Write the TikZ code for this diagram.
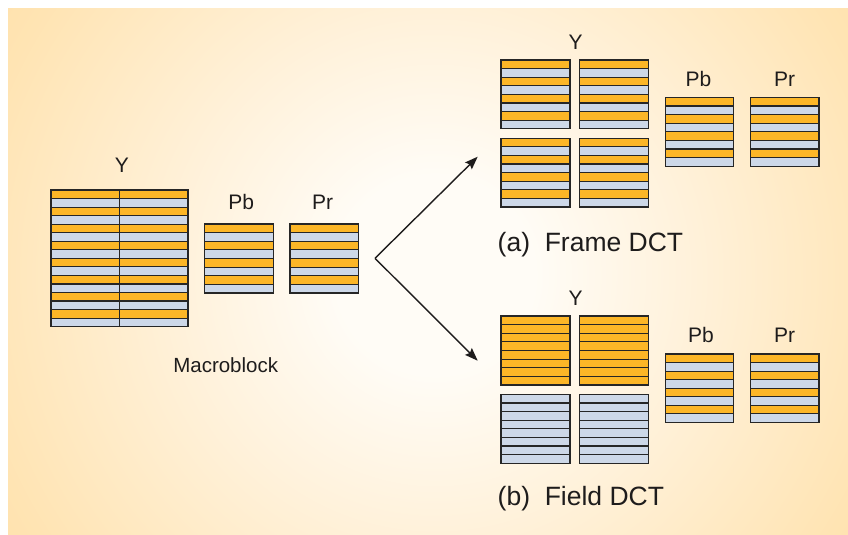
\documentclass[tikz,border=0pt]{standalone}
\usepackage{fontspec}
\setmainfont{Liberation Sans}
\usetikzlibrary{arrows.meta}
\definecolor{bgo}{HTML}{FED793}
\definecolor{bgm}{HTML}{FFE4B3}
\definecolor{bgl}{HTML}{FFF2DC}
\definecolor{bgc}{HTML}{FFFCF6}
\definecolor{org}{HTML}{FCB627}
\definecolor{blu}{HTML}{CDD8E8}
\definecolor{edge}{HTML}{262626}
\definecolor{txt}{HTML}{1E1C1C}
\pgfdeclareradialshading{bgrad}{\pgfpoint{0bp}{0bp}}{%
  color(0bp)=(bgc); color(4bp)=(bgc); color(10bp)=(bgl); color(19bp)=(bgm);
  color(29bp)=(bgo); color(50bp)=(bgo)}
\newcommand{\stripblk}[7]{%
  \pgfmathsetmacro\rh{(#4-#2)/#5}%
  \foreach \i in {1,...,#5}{%
    \pgfmathsetmacro\ya{#2+(\i-1)*\rh}%
    \pgfmathsetmacro\yb{#2+\i*\rh}%
    \ifodd\i\def\cc{#6}\else\def\cc{#7}\fi
    \fill[\cc] (#1,\ya) rectangle (#3,\yb);
    \draw[gridline] (#1,\ya) -- (#3,\ya);
  }%
  \draw[gridline] (#1,#2) rectangle (#3,#4);
}
\tikzset{
  gridline/.style={draw=edge, line width=1.15pt},
  lab/.style={text=txt, inner sep=0pt, anchor=base, font=\fontsize{21}{25}\selectfont},
  captext/.style={text=txt, inner sep=0pt, anchor=base west, font=\fontsize{26.5}{30}\selectfont},
  arr/.style={draw=txt, line width=1.4pt, -{Stealth[length=13pt,width=9.5pt,inset=2pt]}}
}
\begin{document}
\begin{tikzpicture}[x=1pt,y=-1pt]
\useasboundingbox (0,0) rectangle (848,535);
\fill[white] (0,0) rectangle (848,535);
\begin{scope}
  \clip (8,9) rectangle (848,535);
  \shade[shading=bgrad] (435,275) circle[radius=620pt];
\end{scope}
% ---- Macroblock ----
\stripblk{51}{190}{119.5}{326.7}{16}{org}{blu}
\stripblk{119.5}{190}{188}{326.7}{16}{org}{blu}
\stripblk{204.3}{224}{273.3}{293}{8}{org}{blu}
\stripblk{290}{224}{358.7}{293}{8}{org}{blu}
\node[lab] (ly) at (122,172.7) {Y};
\node[lab] (lpb) at (241.2,209.3) {Pb};
\node[lab] (lpr) at (322.7,209.3) {Pr};
\node[lab, font=\fontsize{20.5}{24}\selectfont] (mb) at (225.7,372.7) {Macroblock};
% ---- Frame DCT ----
\stripblk{501}{60}{570}{128.7}{8}{org}{blu}
\stripblk{579.3}{60}{648.3}{128.7}{8}{org}{blu}
\stripblk{501}{138.3}{570}{207}{8}{org}{blu}
\stripblk{579.3}{138.3}{648.3}{207}{8}{org}{blu}
\stripblk{665.3}{97.3}{733.7}{166.3}{8}{org}{blu}
\stripblk{750.3}{97.3}{819}{166.3}{8}{org}{blu}
\node[lab] (fy) at (575.7,50) {Y};
\node[lab] (fpb) at (698.5,86) {Pb};
\node[lab] (fpr) at (784.5,86) {Pr};
\node[captext] (capa) at (497.5,251) {(a)\ \ Frame DCT};
% ---- Field DCT ----
\stripblk{501}{316}{570}{385}{8}{org}{org}
\stripblk{579.3}{316}{648.3}{385}{8}{org}{org}
\stripblk{501}{394.3}{570}{463.3}{8}{blu}{blu}
\stripblk{579.3}{394.3}{648.3}{463.3}{8}{blu}{blu}
\stripblk{665.3}{354}{733.7}{422.3}{8}{org}{blu}
\stripblk{750.3}{354}{819}{422.3}{8}{org}{blu}
\node[lab] (dy) at (575.7,305) {Y};
\node[lab] (dpb) at (701,342.3) {Pb};
\node[lab] (dpr) at (784.5,342.3) {Pr};
\node[captext] (capb) at (497.5,505.3) {(b)\ \ Field DCT};
% ---- arrows ----
\coordinate (v) at (375,258.3);
\coordinate (ta) at (477.7,156.7);
\coordinate (tb) at (477.7,360.7);
\draw[arr] (v) -- (ta);
\draw[arr] (v) -- (tb);
\end{tikzpicture}
\end{document}
